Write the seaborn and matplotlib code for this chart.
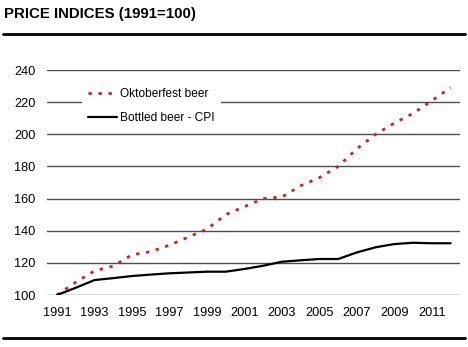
import matplotlib
matplotlib.use("Agg")
import matplotlib.pyplot as plt
import seaborn as sns
import pandas as pd

years = list(range(1991, 2013))
oktoberfest = [100, 108, 115, 118, 125, 127, 131, 136, 141, 150, 155, 160,
               161, 168, 173, 180, 191, 200, 207, 213, 221, 229]
bottled_cpi = [100, 104.5, 109.3, 110.5, 111.8, 112.7, 113.5, 114, 114.5, 114.5,
               116.2, 118.2, 120.7, 121.6, 122.4, 122.4, 126.5, 129.7, 131.7,
               132.5, 132.2, 132.2]
series_names = ["Oktoberfest beer", "Bottled beer - CPI"]
xticks = list(range(1991, 2012, 2))
yticks = list(range(100, 241, 20))
title = "PRICE INDICES (1991=100)"

sns.set_theme(style="white")
plt.rcParams['font.family'] = ['Liberation Sans', 'DejaVu Sans']

df = pd.DataFrame({"year": years, series_names[0]: oktoberfest,
                   series_names[1]: bottled_cpi})

fig = plt.figure(figsize=(4.68, 3.47), dpi=100)
fig.patch.set_facecolor("white")
ax = fig.add_axes([46.7/468, 1-295/347, (460-46.7)/468, (295-70)/347])

for y in yticks:
    ax.axhline(y, color="#4d4d4d", lw=1.0, zorder=1)

sns.lineplot(data=df, x="year", y=series_names[0], ax=ax, color="#c1272d",
             lw=2.0, dashes=False, label=series_names[0], zorder=3)
ax.lines[-1].set_dashes((1.2, 2.4))
sns.lineplot(data=df, x="year", y=series_names[1], ax=ax, color="black",
             lw=1.6, label=series_names[1], zorder=3)

ax.set_xlim(1990.45, 2012.5)
ax.set_ylim(100, 240)
ax.set_xticks(xticks)
ax.set_yticks(yticks)
ax.set_xlabel("")
ax.set_ylabel("")
for s in ax.spines.values():
    s.set_visible(False)
ax.tick_params(axis="both", length=0, labelsize=9.2, colors="black")
ax.tick_params(axis="x", pad=9)
ax.tick_params(axis="y", pad=8)
ax.grid(False)

leg = ax.legend(loc="upper left", bbox_to_anchor=((82-46.7)/413.3, (295-82.5)/225),
                frameon=True, facecolor="white", edgecolor="none", framealpha=1,
                fontsize=8.6, handlelength=2.4, handletextpad=0.3, borderpad=0.5,
                labelspacing=1.0, borderaxespad=0)
leg.set_zorder(5)
for t in leg.get_texts():
    t.set_color("black")

fig.text(4/468, 1-14/347, title, fontsize=10.8, fontweight="bold",
         ha="left", va="center", color="black")
fig.add_artist(plt.Line2D([3/468, 465/468], [1-33.5/347, 1-33.5/347],
                          color="black", lw=2.0, transform=fig.transFigure))
fig.add_artist(plt.Line2D([3/468, 465/468], [1-338/347, 1-338/347],
                          color="black", lw=2.0, transform=fig.transFigure))

fig.savefig("out.png", dpi=100, facecolor="white")
